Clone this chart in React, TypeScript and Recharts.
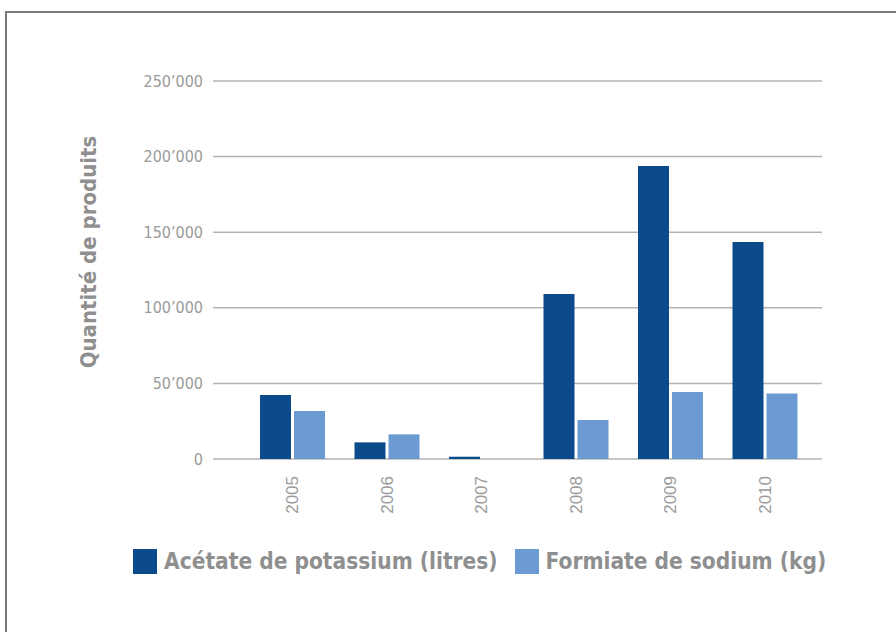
import React from 'react';
import { BarChart, Bar, XAxis, YAxis, CartesianGrid, Legend } from 'recharts';

const years = ['2005', '2006', '2007', '2008', '2009', '2010'];
const acetate = [42300, 11000, 1500, 109100, 193800, 143500];
const formiate = [31700, 16300, 0, 25800, 44300, 43400];
const yTicks = [0, 50000, 100000, 150000, 200000, 250000];
const seriesNames = ['Acétate de potassium (litres)', 'Formiate de sodium (kg)'];
const seriesColors = ['#0b4a8b', '#6b9bd2'];

const data = years.map((y, i) => ({ year: y, acetate: acetate[i], formiate: formiate[i] }));

const condensed = '"Liberation Sans Narrow", "DejaVu Sans Condensed", "Roboto", sans-serif';

const fmt = (v: number) => (v === 0 ? '0' : `${Math.round(v / 1000)}\u2019000`);

const XTick = (props: any) => {
  const { x, y, payload } = props;
  return (
    <text
      transform={`translate(${x},${y}) rotate(-90)`}
      x={-9}
      y={0}
      dy="0.36em"
      textAnchor="end"
      fill="#9a9a9a"
      fontFamily='"Liberation Sans", Arial, sans-serif'
      fontSize={17}
    >
      {payload.value}
    </text>
  );
};

const YLabel = (props: any) => {
  const vb = props.viewBox || {};
  const cx = vb.x + vb.width - 125;
  const cy = vb.y + vb.height / 2 - 18;
  return (
    <text
      transform={`rotate(-90, ${cx}, ${cy})`}
      x={cx}
      y={cy}
      dy="0.35em"
      textAnchor="middle"
      fill="#8f8f8f"
      fontFamily={condensed}
      fontWeight="bold"
      fontSize={22}
    >
      Quantité de produits
    </text>
  );
};

const LegendContent = () => (
  <div style={{ display: 'flex', alignItems: 'center', height: 40 }}>
    {seriesNames.map((n, i) => (
      <div key={n} style={{ display: 'flex', alignItems: 'center', marginRight: 17 }}>
        <div style={{ width: 24, height: 25, background: seriesColors[i], marginRight: 7 }} />
        <span
          style={{
            fontFamily: condensed,
            fontWeight: 'bold',
            fontSize: 22.5,
            color: '#8f8f8f',
            whiteSpace: 'nowrap',
          }}
        >
          {n}
        </span>
      </div>
    ))}
  </div>
);

export default function App() {
  return (
    <div style={{ position: 'absolute', left: 0, top: 0, width: 896, height: 632, overflow: 'hidden', background: '#fff' }}>
      <div
        style={{
          position: 'absolute',
          left: 5,
          top: 11,
          width: 1000,
          height: 1000,
          border: '2px solid #7a7a7a',
          boxSizing: 'border-box',
        }}
      />
      <div style={{ position: 'absolute', left: 0, top: 0 }}>
        <BarChart
          width={896}
          height={632}
          data={data}
          margin={{ top: 81, right: 74, left: 0, bottom: 51 }}
          barGap={3}
          barSize={31}
        >
          <CartesianGrid vertical={false} stroke="#b3b3b3" strokeWidth={1.5} />
          <XAxis
            dataKey="year"
            axisLine={false}
            tickLine={false}
            height={82}
            padding={{ left: 32, right: 10 }}
            tick={<XTick />}
            interval={0}
          />
          <YAxis
            width={213}
            domain={[0, 250000]}
            ticks={yTicks}
            axisLine={false}
            tickLine={false}
            tickMargin={4}
            tickFormatter={fmt}
            tick={{ fill: '#9a9a9a', fontSize: 16, fontFamily: condensed }}
            label={{ content: <YLabel /> }}
          />
          <Legend
            verticalAlign="bottom"
            content={<LegendContent />}
            wrapperStyle={{ left: 133, width: 740 }}
          />
          <Bar dataKey="acetate" name={seriesNames[0]} fill={seriesColors[0]} isAnimationActive={false} />
          <Bar dataKey="formiate" name={seriesNames[1]} fill={seriesColors[1]} isAnimationActive={false} />
        </BarChart>
      </div>
    </div>
  );
}
